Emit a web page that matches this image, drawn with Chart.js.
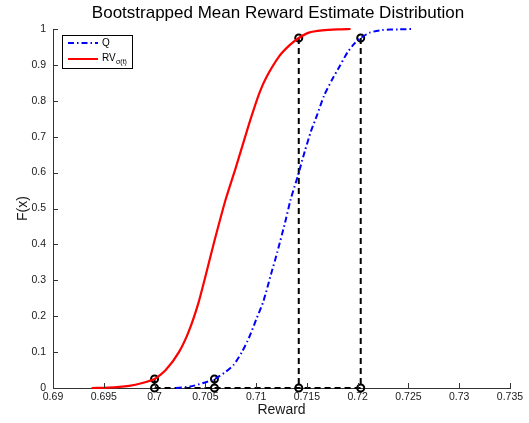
<!DOCTYPE html>
<html>
<head>
<meta charset="utf-8">
<script src="https://cdn.jsdelivr.net/npm/chart.js@4.4.1/dist/chart.umd.min.js"></script>
<style>
  html, body { margin: 0; padding: 0; background: #fff; }
  canvas { display: block; }
</style>
</head>
<body>
<canvas id="cdfChart" width="529" height="423"></canvas>
<script>
// RV_sigma(t) empirical CDF (red)
const rewardRV = [0.6938, 0.6960, 0.6975, 0.6988, 0.7000, 0.7011, 0.7024, 0.7034, 0.7043, 0.7050,
                  0.7059, 0.7070, 0.7080, 0.7093, 0.7103, 0.7110, 0.7123, 0.7133, 0.7142, 0.7152,
                  0.7165, 0.7180, 0.7193];
const cdfRV = [0, 0.002, 0.006, 0.014, 0.025, 0.05, 0.10, 0.16, 0.235, 0.31,
               0.41, 0.525, 0.614, 0.735, 0.82, 0.865, 0.925, 0.955, 0.975, 0.99,
               0.996, 0.999, 1.0];

// Q empirical CDF (blue)
const rewardQ = [0.7021, 0.7035, 0.7047, 0.7059, 0.7070, 0.7078, 0.7086, 0.7093, 0.7100, 0.7107,
                 0.7114, 0.7121, 0.7128, 0.7134, 0.7141, 0.7148, 0.7154, 0.7160, 0.7167, 0.7175,
                 0.7182, 0.7190, 0.7197, 0.7203, 0.7212, 0.7224, 0.7240, 0.7255];
const cdfQ = [0, 0.004, 0.013, 0.025, 0.045, 0.065, 0.10, 0.14, 0.19, 0.24,
              0.31, 0.38, 0.455, 0.525, 0.59, 0.66, 0.715, 0.76, 0.815, 0.86,
              0.895, 0.935, 0.96, 0.975, 0.99, 0.997, 0.999, 1.0];

// 2.5% / 97.5% quantiles
const quantLevels = [0.025, 0.975];
const quantRV = [0.7000, 0.7142];
const quantQ = [0.7059, 0.7203];

// axis ticks
const xTicks = [0.69, 0.695, 0.7, 0.705, 0.71, 0.715, 0.72, 0.725, 0.73, 0.735];
const yTicks = [0, 0.1, 0.2, 0.3, 0.4, 0.5, 0.6, 0.7, 0.8, 0.9, 1];

const titleText = 'Bootstrapped Mean Reward Estimate Distribution';

Chart.defaults.font.family = "'Liberation Sans', Arial, sans-serif";
Chart.defaults.color = '#1a1a1a';

function toPoints(xs, ys) {
    return xs.map((x, i) => ({ x: x, y: ys[i] }));
}

// dashed guide segments and circle markers from the quantiles
const guideSets = [];
const circlePts = [];
[quantRV, quantQ].forEach((q) => {
    q.forEach((x, i) => {
        guideSets.push([{ x: x, y: quantLevels[i] }, { x: x, y: 0 }]);
        circlePts.push({ x: x, y: quantLevels[i] });
        circlePts.push({ x: x, y: 0 });
    });
});
guideSets.push([{ x: Math.min(...quantRV, ...quantQ), y: 0 }, { x: Math.max(...quantRV, ...quantQ), y: 0 }]);

const datasets = [
    {
        label: 'Q',
        data: toPoints(rewardQ, cdfQ),
        borderColor: '#0000ff',
        borderWidth: 2,
        borderDash: [6, 3, 1.5, 3],
        pointRadius: 0,
        showLine: true,
        tension: 0.2,
        clip: false
    },
    {
        label: 'RV',
        data: toPoints(rewardRV, cdfRV),
        borderColor: '#ff0000',
        borderWidth: 2.2,
        pointRadius: 0,
        showLine: true,
        tension: 0.2,
        clip: false
    }
];
guideSets.forEach((seg) => {
    datasets.push({
        label: 'guide',
        data: seg,
        borderColor: '#000',
        borderWidth: 2,
        borderDash: [6, 4],
        pointRadius: 0,
        showLine: true,
        clip: false
    });
});
datasets.push({
    label: 'quantiles',
    data: circlePts,
    borderColor: '#000',
    backgroundColor: 'rgba(0,0,0,0)',
    pointRadius: 3.5,
    pointBorderWidth: 2,
    showLine: false,
    clip: false
});

// inward ticks, title and legend box
const decorPlugin = {
    id: 'decor',
    afterDraw(chart) {
        const ctx = chart.ctx;
        const xs = chart.scales.x, ys = chart.scales.y;
        const area = chart.chartArea;
        ctx.save();
        ctx.strokeStyle = '#333';
        ctx.lineWidth = 1;
        ctx.beginPath();
        xTicks.forEach((v) => {
            const px = Math.round(xs.getPixelForValue(v)) + 0.5;
            ctx.moveTo(px, area.bottom);
            ctx.lineTo(px, area.bottom - 5);
        });
        yTicks.forEach((v) => {
            const py = Math.round(ys.getPixelForValue(v)) + 0.5;
            ctx.moveTo(area.left, py);
            ctx.lineTo(area.left + 5, py);
        });
        ctx.stroke();

        // title
        ctx.fillStyle = '#000';
        ctx.font = "17px 'Liberation Sans', Arial, sans-serif";
        ctx.textAlign = 'center';
        ctx.textBaseline = 'middle';
        ctx.fillText(titleText, 278, 13);

        // legend
        const bx = 62.5, by = 35.5, bw = 70, bh = 33;
        ctx.fillStyle = '#fff';
        ctx.fillRect(bx, by, bw, bh);
        ctx.strokeStyle = '#000';
        ctx.lineWidth = 1;
        ctx.strokeRect(bx, by, bw, bh);

        ctx.lineWidth = 2;
        ctx.strokeStyle = datasets[0].borderColor;
        ctx.setLineDash(datasets[0].borderDash);
        ctx.beginPath();
        ctx.moveTo(68, 43);
        ctx.lineTo(98, 43);
        ctx.stroke();

        ctx.strokeStyle = datasets[1].borderColor;
        ctx.setLineDash([]);
        ctx.beginPath();
        ctx.moveTo(68, 59);
        ctx.lineTo(98, 59);
        ctx.stroke();

        ctx.fillStyle = '#000';
        ctx.textAlign = 'left';
        ctx.font = "10px 'Liberation Sans', Arial, sans-serif";
        ctx.fillText('Q', 102, 43);
        ctx.fillText('RV', 102, 58);
        ctx.font = "7px 'Liberation Sans', Arial, sans-serif";
        ctx.fillText('\u03c3(t)', 116, 62);
        ctx.restore();
    }
};

new Chart(document.getElementById('cdfChart').getContext('2d'), {
    type: 'scatter',
    data: { datasets: datasets },
    options: {
        responsive: false,
        animation: false,
        layout: { padding: { top: 29, right: 19, bottom: 0, left: 0 } },
        plugins: {
            legend: { display: false },
            title: { display: false },
            tooltip: { enabled: false }
        },
        scales: {
            x: {
                type: 'linear',
                min: 0.69,
                max: 0.735,
                afterFit: (scale) => { scale.height = 35; },
                afterBuildTicks: (scale) => { scale.ticks = xTicks.map((v) => ({ value: v })); },
                ticks: {
                    autoSkip: false,
                    maxRotation: 0,
                    padding: 3,
                    font: { size: 10.5 },
                    callback: (v) => String(Number(v.toFixed(3)))
                },
                grid: { display: false, drawTicks: false },
                border: { display: true, color: '#333', width: 1 },
                title: { display: true, text: 'Reward', font: { size: 14 }, color: '#1a1a1a', padding: { top: 0, bottom: 4 } }
            },
            y: {
                min: 0,
                max: 1,
                afterFit: (scale) => { scale.width = 53; },
                afterBuildTicks: (scale) => { scale.ticks = yTicks.map((v) => ({ value: v })); },
                ticks: {
                    padding: 7,
                    font: { size: 10.5 },
                    callback: (v) => String(Number(v.toFixed(1)))
                },
                grid: { display: false, drawTicks: false },
                border: { display: true, color: '#333', width: 1 },
                title: { display: true, text: 'F(x)', font: { size: 14 }, color: '#1a1a1a', padding: { top: 15, bottom: 0 } }
            }
        }
    },
    plugins: [decorPlugin]
});
</script>
</body>
</html>
